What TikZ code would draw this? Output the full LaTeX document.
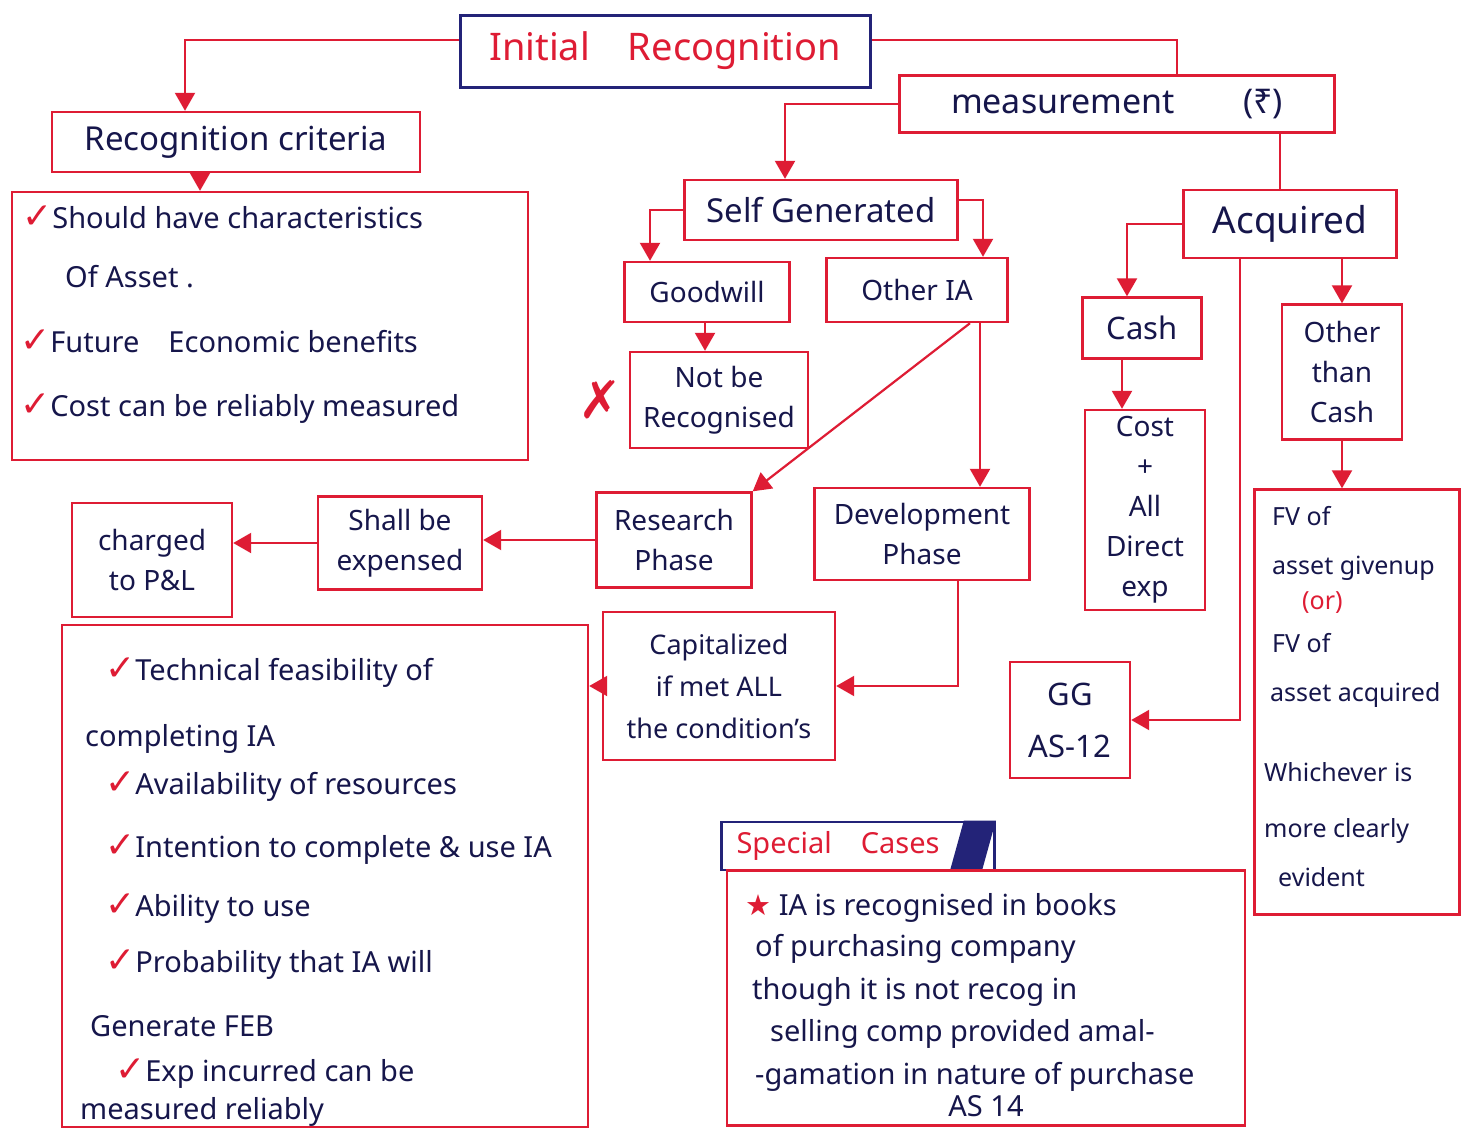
\documentclass[tikz,border=0pt]{standalone}
\usepackage{fontspec}
\setmainfont{Noto Sans}
\newfontfamily\symfont{DejaVu Sans}
\usetikzlibrary{arrows.meta,calc}
\definecolor{pen}{RGB}{222,28,52}
\definecolor{ink}{RGB}{22,22,75}
\definecolor{navy}{RGB}{35,35,120}
\newcommand\chk{{\color{pen}\symfont\fontsize{36}{36}\selectfont ✓}}
\tikzset{
  box/.style={draw=pen, line width=2.4pt, rectangle, inner sep=4pt, text=ink, align=center, font=\fontsize{28}{40}\selectfont},
  conn/.style={draw=pen, line width=2.2pt},
  arr/.style={conn, -{Triangle[width=20pt,length=18pt]}},
  txt/.style={anchor=base west, text=ink, inner sep=0pt, font=\fontsize{29}{34}\selectfont},
  smalltxt/.style={txt, font=\fontsize{25}{30}\selectfont}
}
\begin{document}
\begin{tikzpicture}[x=1pt,y=1pt]
\path[use as bounding box, fill=white] (0,0) rectangle (1466,-1133);

% ---- boxes ----
\node[box, draw=navy, line width=3pt, text=pen, minimum width=410pt, minimum height=72pt, font=\fontsize{38}{44}\selectfont] (init) at (665,-51) {Initial\quad Recognition};
\node[box, minimum width=368pt, minimum height=60pt, font=\fontsize{33}{38}\selectfont] (crit) at (236,-142) {Recognition criteria};
\node[box, minimum width=516pt, minimum height=268pt] (critlist) at (270,-326) {};
\node[box, minimum width=435pt, minimum height=57pt, font=\fontsize{34}{40}\selectfont] (meas) at (1117,-104) {measurement\qquad(₹)};
\node[box, minimum width=273pt, minimum height=60pt, font=\fontsize{33}{38}\selectfont] (selfgen) at (821,-210) {Self Generated};
\node[box, minimum width=213pt, minimum height=68pt, font=\fontsize{37}{42}\selectfont] (acq) at (1290,-224) {Acquired};
\node[box, minimum width=165pt, minimum height=60pt] (good) at (707,-292) {Goodwill};
\node[box, minimum width=181pt, minimum height=64pt] (otheria) at (917,-290) {Other IA};
\node[box, minimum width=178pt, minimum height=96pt] (notrec) at (719,-400) {Not be\\Recognised};
\node[box, minimum width=119pt, minimum height=61pt, font=\fontsize{31}{36}\selectfont] (cash) at (1142,-328) {Cash};
\node[box, minimum width=120pt, minimum height=135pt] (otc) at (1342,-372) {Other\\than\\Cash};
\node[box, minimum width=120pt, minimum height=200pt] (cost) at (1145,-510) {Cost\\+\\All\\Direct\\exp};
\node[box, minimum width=205pt, minimum height=425pt] (fv) at (1357,-702) {};
\node[box, minimum width=155pt, minimum height=95pt] (research) at (674,-540) {Research\\Phase};
\node[box, minimum width=215pt, minimum height=92pt] (dev) at (922,-534) {Development\\Phase};
\node[box, minimum width=164pt, minimum height=93pt] (expensed) at (400,-543) {Shall be\\expensed};
\node[box, minimum width=160pt, minimum height=114pt] (charged) at (152,-560) {charged\\to P\&L};
\node[box, minimum width=232pt, minimum height=148pt, font=\fontsize{27}{42}\selectfont] (capit) at (719,-686) {Capitalized\\if met ALL\\the condition's};
\node[box, minimum width=526pt, minimum height=502pt] (condlist) at (325,-876) {};
\node[box, minimum width=120pt, minimum height=116pt, font=\fontsize{31}{52}\selectfont] (gg) at (1070,-720) {GG\\AS-12};
\node[box, draw=navy, line width=2.6pt, text=pen, minimum width=273pt, minimum height=48pt, font=\fontsize{29}{34}\selectfont] (tab) at (858,-846) {Special\quad Cases\hspace{40pt}};
\fill[navy] ([xshift=-32pt]tab.north east) -- (tab.north east) -- ([xshift=-14pt]tab.south east) -- ([xshift=-46pt]tab.south east) -- cycle;
\node[box, minimum width=518pt, minimum height=255pt] (special) at (986,-998) {};

% ---- red X ----
\node[text=pen, inner sep=0pt, font=\symfont\fontsize{52}{52}\selectfont] (xmark) at (600,-400) {✗};

% ---- criteria list text ----
\node[txt] (cl1) at (22,-228) {\chk Should have characteristics};
\node[txt] (cl2) at (65,-287) {Of Asset .};
\node[txt] (cl3) at (20,-352) {\chk Future\quad Economic benefits};
\node[txt] (cl4) at (20,-416) {\chk Cost can be reliably measured};

% ---- conditions list text ----
\node[txt] (c1) at (105,-680) {\chk Technical feasibility of};
\node[txt] (c2) at (85,-746) {completing IA};
\node[txt] (c3) at (105,-794) {\chk Availability of resources};
\node[txt] (c4) at (105,-857) {\chk Intention to complete \& use IA};
\node[txt] (c5) at (105,-916) {\chk Ability to use};
\node[txt] (c6) at (105,-972) {\chk Probability that IA will};
\node[txt] (c7) at (90,-1036) {Generate FEB};
\node[txt] (c8) at (115,-1081) {\chk Exp incurred can be};
\node[txt] (c9) at (80,-1119) {measured reliably};

% ---- FV box text ----
\node[smalltxt] (f1) at (1272,-525) {FV of};
\node[smalltxt] (f2) at (1272,-574) {asset givenup};
\node[smalltxt, text=pen] (f3) at (1302,-609) {(or)};
\node[smalltxt] (f4) at (1272,-652) {FV of};
\node[smalltxt] (f5) at (1270,-701) {asset acquired};
\node[smalltxt] (f6) at (1264,-781) {Whichever is};
\node[smalltxt] (f7) at (1264,-837) {more clearly};
\node[smalltxt] (f8) at (1278,-886) {evident};

% ---- special cases text ----
\node[txt] (s1) at (745,-915) {{\color{pen}\symfont ★}\ IA is recognised in books};
\node[txt] (s2) at (755,-956) {of purchasing company};
\node[txt] (s3) at (752,-999) {though it is not recog in};
\node[txt] (s4) at (770,-1041) {selling comp provided amal-};
\node[txt] (s5) at (755,-1084) {-gamation in nature of purchase};
\node[txt, anchor=base] (s6) at (986,-1116) {AS 14};

% ---- connectors ----
\draw[arr] ([yshift=11pt]init.west) -| ([xshift=-51pt]crit.north);
\draw[conn] ([yshift=11pt]init.east) -| ([xshift=60pt]meas.north);
\draw[arr] ([xshift=-36pt]crit.south) -- ([xshift=-70pt]critlist.north);
\draw[arr] (meas.west) -| ([xshift=-36pt]selfgen.north);
\draw[conn] ([xshift=163pt]meas.south) -- ([xshift=-10pt]acq.north);
\draw[arr] (selfgen.west) -| ([xshift=-57pt]good.north);
\draw[arr] ([yshift=10pt]selfgen.east) -| ([xshift=66pt]otheria.north);
\draw[arr] ([xshift=-2pt]good.south) -- ([xshift=-14pt]notrec.north);
\draw[arr] (acq.west) -| ([xshift=-15pt]cash.north);
\draw[arr] (otc.north |- acq.south) -- (otc.north);
\draw[arr] ([xshift=-50pt]acq.south) |- (gg.east);
\draw[arr] ([xshift=-20pt]cash.south) -- ([xshift=-23pt]cost.north);
\draw[arr] (otc.south) -- (otc.south |- fv.north);
\draw[arr] ([xshift=53pt]otheria.south) -- (research.north east);
\draw[arr] ([xshift=63pt]otheria.south) -- ([xshift=58pt]dev.north);
\draw[arr] (research.west) -- (research.west -| expensed.east);
\draw[arr] (expensed.west) -- (expensed.west -| charged.east);
\draw[arr] ([xshift=36pt]dev.south) |- (capit.east);
\draw[arr] (capit.west) -- (capit.west -| condlist.east);
\end{tikzpicture}
\end{document}
